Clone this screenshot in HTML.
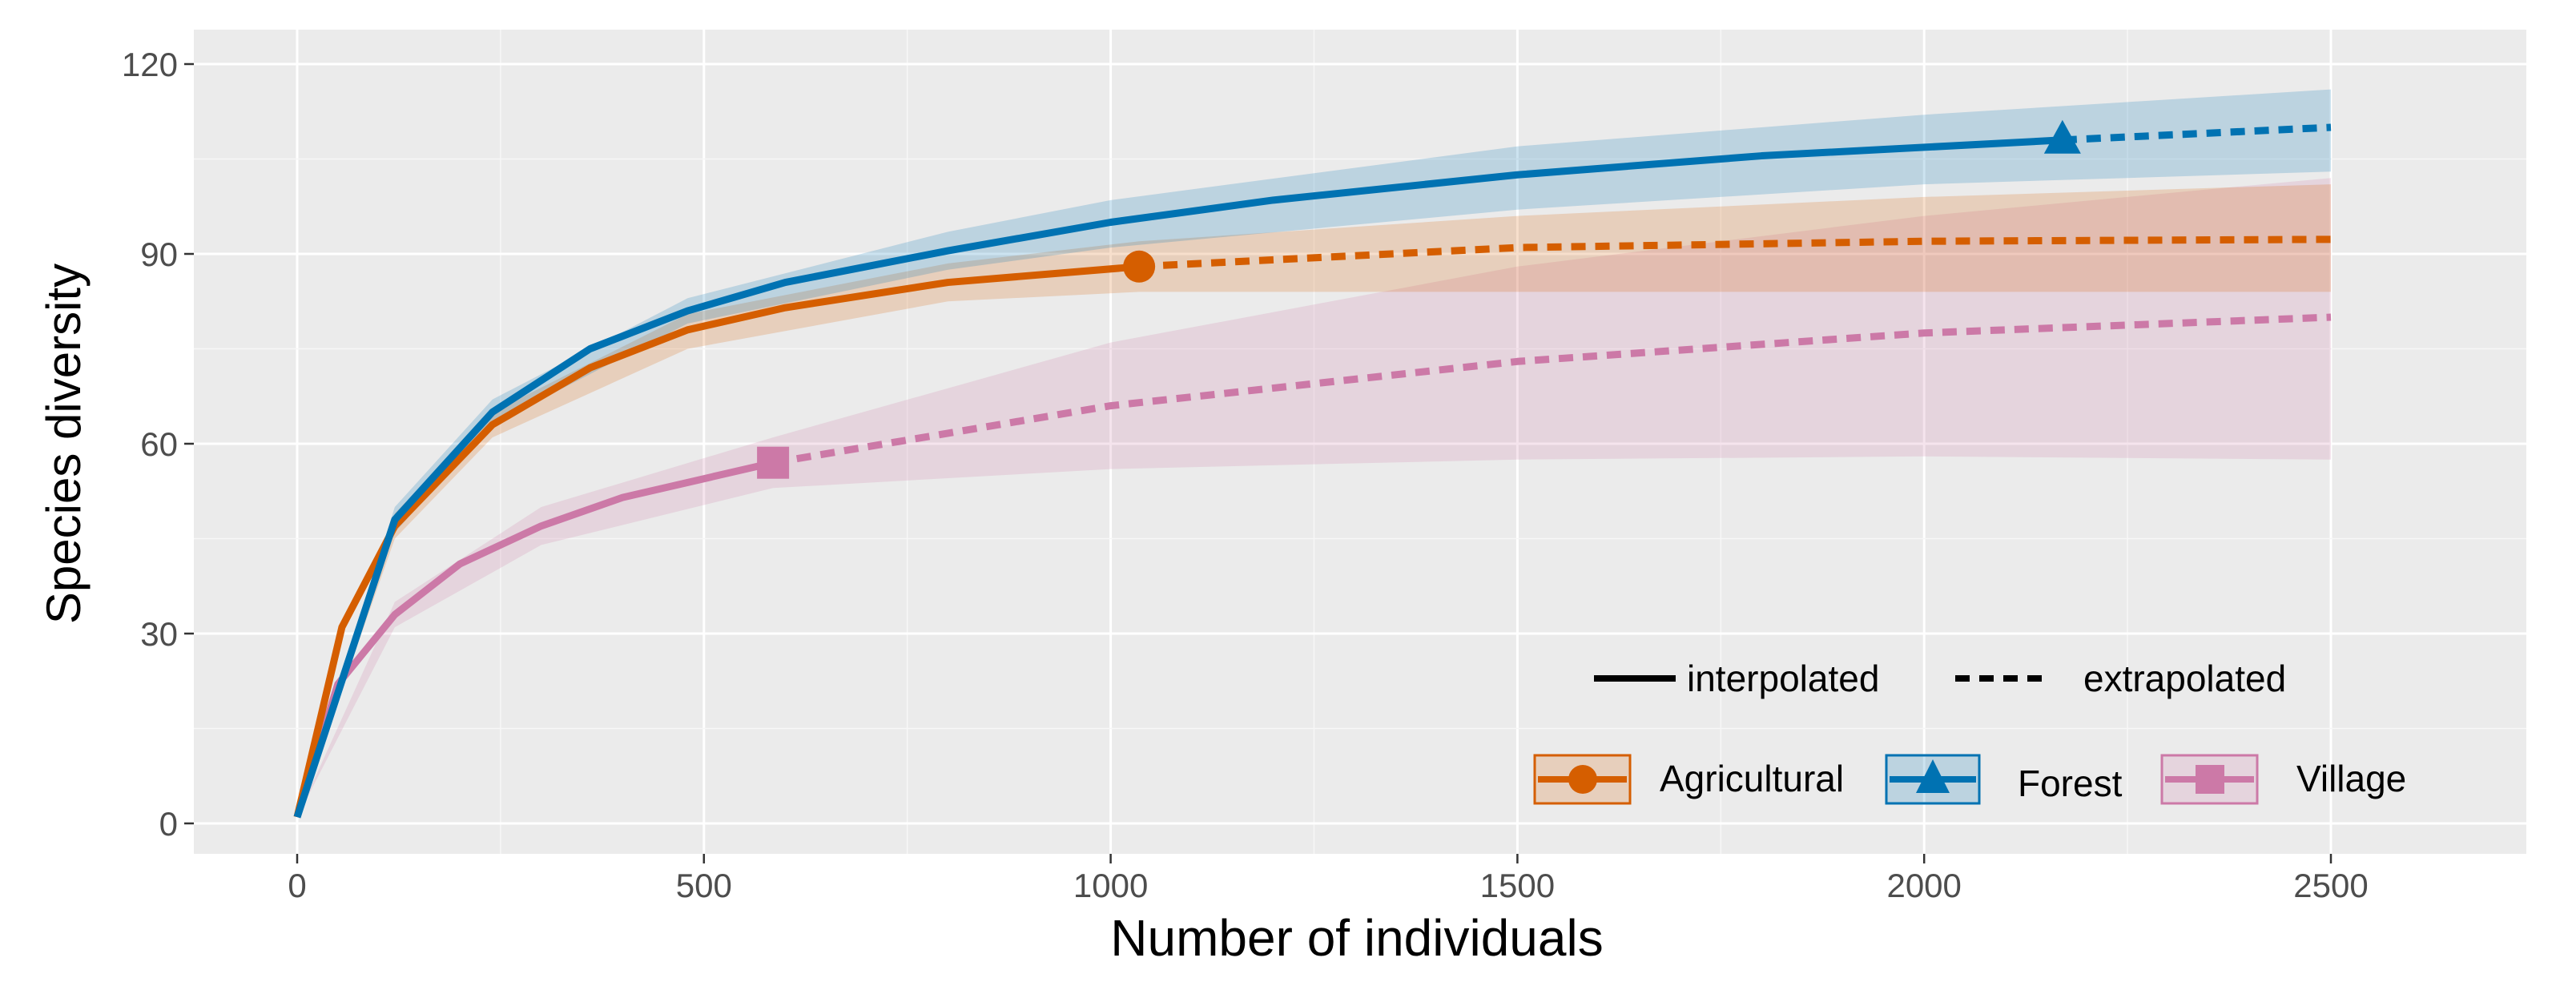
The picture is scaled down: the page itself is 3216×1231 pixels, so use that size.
<!DOCTYPE html>
<html><head><meta charset="utf-8"><style>
html,body{margin:0;padding:0;background:#fff;}
svg{display:block;font-family:"Liberation Sans",sans-serif;}
</style></head><body>
<svg id="chart" width="3216" height="1231" viewBox="0 0 3216 1231" xmlns="http://www.w3.org/2000/svg">
<rect x="242" y="37" width="2912" height="1029" fill="#EBEBEB"/>
<g id="grid"></g>
<g id="bands"></g>
<g id="lines"></g>
<g id="axes"></g>
<text transform="translate(100,554) rotate(-90)" font-size="60" text-anchor="middle" fill="#000">Species diversity</text>
<text x="1694" y="1193" font-size="64" text-anchor="middle" fill="#000">Number of individuals</text>
<g>
<line x1="1990" y1="847" x2="2092" y2="847" stroke="#000" stroke-width="8"/>
<text x="2106" y="863" font-size="46" fill="#000">interpolated</text>
<line x1="2441" y1="847" x2="2553" y2="847" stroke="#000" stroke-width="8" stroke-dasharray="18 12"/>
<text x="2601" y="863" font-size="46" fill="#000">extrapolated</text>
</g>
<g>
<rect x="1916" y="943" width="119" height="60" fill="#D55E00" fill-opacity="0.2" stroke="#D55E00" stroke-width="3"/>
<line x1="1920" y1="973" x2="2031" y2="973" stroke="#D55E00" stroke-width="8"/>
<circle cx="1976" cy="973" r="18" fill="#D55E00"/>
<text x="2072" y="988" font-size="46" fill="#000">Agricultural</text>
</g>
<g>
<rect x="2355" y="943" width="116" height="60" fill="#0072B2" fill-opacity="0.2" stroke="#0072B2" stroke-width="3"/>
<line x1="2359" y1="973" x2="2467" y2="973" stroke="#0072B2" stroke-width="8"/>
<polygon points="2413,948 2434,990 2392,990" fill="#0072B2"/>
<text x="2519" y="994" font-size="46" fill="#000">Forest</text>
</g>
<g>
<rect x="2699" y="943" width="119" height="60" fill="#CC79A7" fill-opacity="0.2" stroke="#CC79A7" stroke-width="3"/>
<line x1="2703" y1="973" x2="2814" y2="973" stroke="#CC79A7" stroke-width="8"/>
<rect x="2741" y="955" width="36" height="36" fill="#CC79A7"/>
<text x="2867" y="988" font-size="46" fill="#000">Village</text>
</g>
</svg>
<script>
const xTicks=[0,500,1000,1500,2000,2500];
const yTicks=[0,30,60,90,120];
const agriX=[0,55,120,240,360,480,600,800,1035];
const agriY=[1,31,47,63,72,78,81.5,85.5,88];
const agriExtX=[1035,1500,2000,2500];
const agriExtY=[88,91,92,92.3];
const agriBandX=[0,120,240,480,800,1035,1500,2000,2500];
const agriLo=[1,45,61,75,82.5,84,84,84,84];
const agriHi=[1,49,65,80.5,88.5,92,96,99,101];
const forX=[0,120,240,360,480,600,800,1000,1200,1500,1800,2170];
const forY=[1,48,65,75,81,85.5,90.5,95,98.5,102.5,105.5,108];
const forExtX=[2170,2500];
const forExtY=[108,110];
const forBandX=[0,120,240,480,800,1000,1500,2000,2500];
const forLo=[1,46,63,79,87.5,91,97,101,103];
const forHi=[1,50,67,83,93.5,98.5,107,112,116];
const vilX=[0,50,120,200,300,400,585];
const vilY=[1,22,33,41,47,51.5,57];
const vilExtX=[585,1000,1500,2000,2500];
const vilExtY=[57,66,73,77.5,80];
const vilBandX=[0,120,300,585,1000,1500,2000,2500];
const vilLo=[1,31,44,53,56,57.5,58,57.5];
const vilHi=[1,35,50,61,76,88,96,102];

const NS="http://www.w3.org/2000/svg";
const sx=v=>371+v*507.8/500;
const sy=v=>1028-v*237/30;
function mk(tag,attrs,parent){const e=document.createElementNS(NS,tag);for(const k in attrs)e.setAttribute(k,attrs[k]);parent.appendChild(e);return e;}
const grid=document.getElementById('grid'),axes=document.getElementById('axes'),bands=document.getElementById('bands'),lines=document.getElementById('lines');
for(let i=0;i<xTicks.length;i++){
  const x=sx(xTicks[i]);
  const g=mk('line',{x1:x,x2:x,y1:37,y2:1066,stroke:'#fff','stroke-width':3},grid);
  
  
  if(i<xTicks.length-1){const xm=sx(xTicks[i]+250);const m=mk('line',{x1:xm,x2:xm,y1:37,y2:1066,stroke:'#F7F7F7','stroke-width':1.5},grid);
  
  }
  mk('line',{x1:x,x2:x,y1:1066,y2:1078,stroke:'#333','stroke-width':2.5},axes);
  const t=mk('text',{x:x,y:1120,'font-size':42,'text-anchor':'middle',fill:'#4D4D4D'},axes);t.textContent=xTicks[i];
  
  
}
for(let i=0;i<yTicks.length;i++){
  const y=sy(yTicks[i]);
  const g=mk('line',{x1:242,x2:3154,y1:y,y2:y,stroke:'#fff','stroke-width':3},grid);
  
  
  if(i<yTicks.length-1){const ym=sy(yTicks[i]+15);const m=mk('line',{x1:242,x2:3154,y1:ym,y2:ym,stroke:'#F7F7F7','stroke-width':1.5},grid);
  
  }
  mk('line',{x1:230,x2:242,y1:y,y2:y,stroke:'#333','stroke-width':2.5},axes);
  const t=mk('text',{x:222,y:y+15,'font-size':42,'text-anchor':'end',fill:'#4D4D4D'},axes);t.textContent=yTicks[i];
  
  
}
function pts(xs,ys){return xs.map((v,i)=>sx(v)+','+sy(ys[i])).join(' ');}
function band(xs,lo,hi,col,name){
  const p=xs.map((v,i)=>sx(v)+','+sy(hi[i])).concat(xs.slice().reverse().map((v,i)=>sx(v)+','+sy(lo[xs.length-1-i])));
  const e=mk('polygon',{points:p.join(' '),fill:col,'fill-opacity':0.2},bands);
  
  
}
band(vilBandX,vilLo,vilHi,'#CC79A7','village-band');
band(agriBandX,agriLo,agriHi,'#D55E00','agricultural-band');
band(forBandX,forLo,forHi,'#0072B2','forest-band');
function line(xs,ys,col,dash,name){
  const e=mk('polyline',{points:pts(xs,ys),fill:'none',stroke:col,'stroke-width':9,'stroke-linejoin':'round'},lines);
  if(dash)e.setAttribute('stroke-dasharray','18 12');
  
  
}
line(vilX,vilY,'#CC79A7',false,'village-interpolated-line');
line(vilExtX,vilExtY,'#CC79A7',true,'village-extrapolated-line');
line(agriX,agriY,'#D55E00',false,'agricultural-interpolated-line');
line(agriExtX,agriExtY,'#D55E00',true,'agricultural-extrapolated-line');
line(forX,forY,'#0072B2',false,'forest-interpolated-line');
line(forExtX,forExtY,'#0072B2',true,'forest-extrapolated-line');
const ax=sx(agriX[agriX.length-1]),ay=sy(agriY[agriY.length-1]);
const c=mk('circle',{cx:ax,cy:ay,r:20,fill:'#D55E00'},lines);


const fx=sx(forX[forX.length-1]),fy=sy(forY[forY.length-1]);
const tr=mk('polygon',{points:`${fx},${fy-25} ${fx+23},${fy+17} ${fx-23},${fy+17}`,fill:'#0072B2'},lines);


const vx=sx(vilX[vilX.length-1]),vy=sy(vilY[vilY.length-1]);
const sq=mk('rect',{x:vx-20,y:vy-20,width:40,height:40,fill:'#CC79A7'},lines);


</script>
</body></html>
